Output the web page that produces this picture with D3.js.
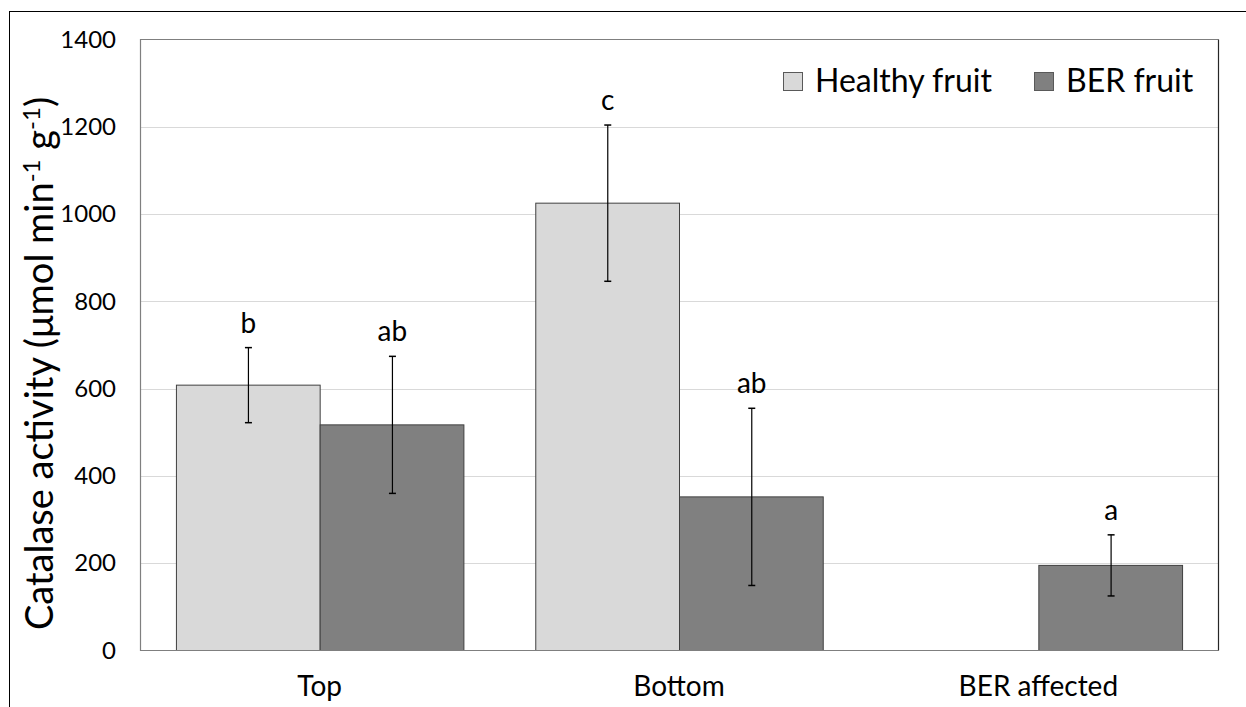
<!DOCTYPE html>
<html>
<head>
<meta charset="utf-8">
<script src="https://cdn.jsdelivr.net/npm/d3@7"></script>
<style>
  html, body { margin: 0; padding: 0; background: #fff; }
  svg { display: block; font-family: Lato, "Open Sans", sans-serif; }
</style>
</head>
<body>
<svg id="chart" width="1246" height="707"></svg>
<script>
// ---- data ----
const categories = ["Top", "Bottom", "BER affected"];
const seriesNames = ["Healthy fruit", "BER fruit"];
const healthyValues = [608, 1025, null];
const healthyErrors = [86, 179, null];
const berValues = [517, 352, 195];
const berErrors = [157, 203, 70];
const healthyLetters = ["b", "c", null];
const berLetters = ["ab", "ab", "a"];
const yTicks = [0, 200, 400, 600, 800, 1000, 1200, 1400];

// ---- layout ----
const W = 1246, H = 707;
const plot = { left: 140, top: 39.5, right: 1218, bottom: 650.5 };
const colors = ["#d9d9d9", "#808080"];
const FONT = "Lato, 'Open Sans', sans-serif";

const svg = d3.select("#chart");

// outer chart border (extends beyond the cropped view)
svg.append("rect")
  .attr("x", 9.5).attr("y", 11.5)
  .attr("width", W + 20).attr("height", H + 20)
  .attr("fill", "#fff").attr("stroke", "#000").attr("stroke-width", 1);

const x0 = d3.scaleBand()
  .domain(categories)
  .range([plot.left, plot.right])
  .paddingInner(0.2).paddingOuter(0.1);
const x1 = d3.scaleBand()
  .domain(seriesNames)
  .range([0, x0.bandwidth()]);
const y = d3.scaleLinear()
  .domain([0, 1400])
  .range([plot.bottom, plot.top]);

// gridlines
svg.append("g")
  .selectAll("line")
  .data(yTicks.filter(t => t > 0 && t < 1400))
  .join("line")
  .attr("x1", plot.left).attr("x2", plot.right)
  .attr("y1", d => Math.round(y(d)) + 0.5).attr("y2", d => Math.round(y(d)) + 0.5)
  .attr("stroke", "#d9d9d9").attr("stroke-width", 1);

// y axis tick labels
const yAxis = d3.axisLeft(y).tickValues(yTicks).tickFormat(d3.format("d")).tickSize(0).tickPadding(24);
const gy = svg.append("g").attr("transform", `translate(${plot.left},0)`).call(yAxis);
gy.attr("font-family", FONT).attr("font-size", 24);
gy.select(".domain").remove();
gy.selectAll("text").attr("fill", "#000");

// bars
const rows = categories.map((c, i) => ({
  cat: c,
  items: [
    { s: seriesNames[0], v: healthyValues[i], e: healthyErrors[i], l: healthyLetters[i], c: colors[0] },
    { s: seriesNames[1], v: berValues[i], e: berErrors[i], l: berLetters[i], c: colors[1] }
  ].filter(d => d.v != null)
}));

const groups = svg.append("g").selectAll("g")
  .data(rows).join("g")
  .attr("transform", d => `translate(${x0(d.cat)},0)`);

groups.selectAll("rect")
  .data(d => d.items).join("rect")
  .attr("x", d => x1(d.s) + 0.5)
  .attr("y", d => y(d.v))
  .attr("width", x1.bandwidth())
  .attr("height", d => y(0) - y(d.v))
  .attr("fill", d => d.c)
  .attr("stroke", "#404040").attr("stroke-width", 1);

// error bars
const cx = d => Math.round(x1(d.s) + x1.bandwidth() / 2) + 0.5;
const eb = groups.selectAll("g.err")
  .data(d => d.items).join("g").attr("class", "err");
eb.append("line")
  .attr("x1", cx).attr("x2", cx)
  .attr("y1", d => y(d.v + d.e)).attr("y2", d => y(d.v - d.e))
  .attr("stroke", "#000").attr("stroke-width", 1.2);
[1, -1].forEach(sgn => {
  eb.append("line")
    .attr("x1", d => cx(d) - 3.5).attr("x2", d => cx(d) + 3.5)
    .attr("y1", d => y(d.v + sgn * d.e)).attr("y2", d => y(d.v + sgn * d.e))
    .attr("stroke", "#000").attr("stroke-width", 1.5);
});

// significance letters
eb.filter(d => d.l)
  .append("text")
  .attr("x", d => cx(d))
  .attr("y", d => y(d.v + d.e) - 15)
  .attr("text-anchor", "middle")
  .attr("font-size", 28).attr("fill", "#000")
  .text(d => d.l);

// plot area border
svg.append("path")
  .attr("d", `M${plot.right + 0.5},${plot.top} H${plot.left + 0.5} V${plot.bottom} H${plot.right + 0.5}`)
  .attr("fill", "none").attr("stroke", "#7f7f7f").attr("stroke-width", 1.2);
svg.append("line")
  .attr("x1", plot.right + 0.5).attr("x2", plot.right + 0.5)
  .attr("y1", plot.top).attr("y2", plot.bottom)
  .attr("stroke", "#262626").attr("stroke-width", 1.2);

// x axis labels
const xAxis = d3.axisBottom(x0).tickSize(0).tickPadding(26);
const gx = svg.append("g").attr("transform", `translate(0,${plot.bottom})`).call(xAxis);
gx.attr("font-family", FONT).attr("font-size", 28);
gx.select(".domain").remove();
gx.selectAll("text").attr("fill", "#000");

// y axis title
const title = svg.append("text")
  .attr("transform", `translate(53,${(95 + 632) / 2}) rotate(-90)`)
  .attr("text-anchor", "middle")
  .attr("font-size", 38).attr("fill", "#000");
title.append("tspan").text("Catalase activity (μmol min");
title.append("tspan").attr("dy", -13).attr("font-size", 24).text("-1");
title.append("tspan").attr("dy", 13).text(" g");
title.append("tspan").attr("dy", -13).attr("font-size", 24).text("-1");
title.append("tspan").attr("dy", 13).text(")");

// legend
const legend = svg.append("g");
const legendX = [783, 1034];
seriesNames.forEach((s, i) => {
  legend.append("rect")
    .attr("x", legendX[i] + 0.5).attr("y", 72.5)
    .attr("width", 19).attr("height", 18)
    .attr("fill", colors[i]).attr("stroke", "#595959").attr("stroke-width", 1);
  legend.append("text")
    .attr("x", legendX[i] + 32).attr("y", 92)
    .attr("font-size", 32).attr("fill", "#000")
    .text(s);
});
</script>
</body>
</html>
